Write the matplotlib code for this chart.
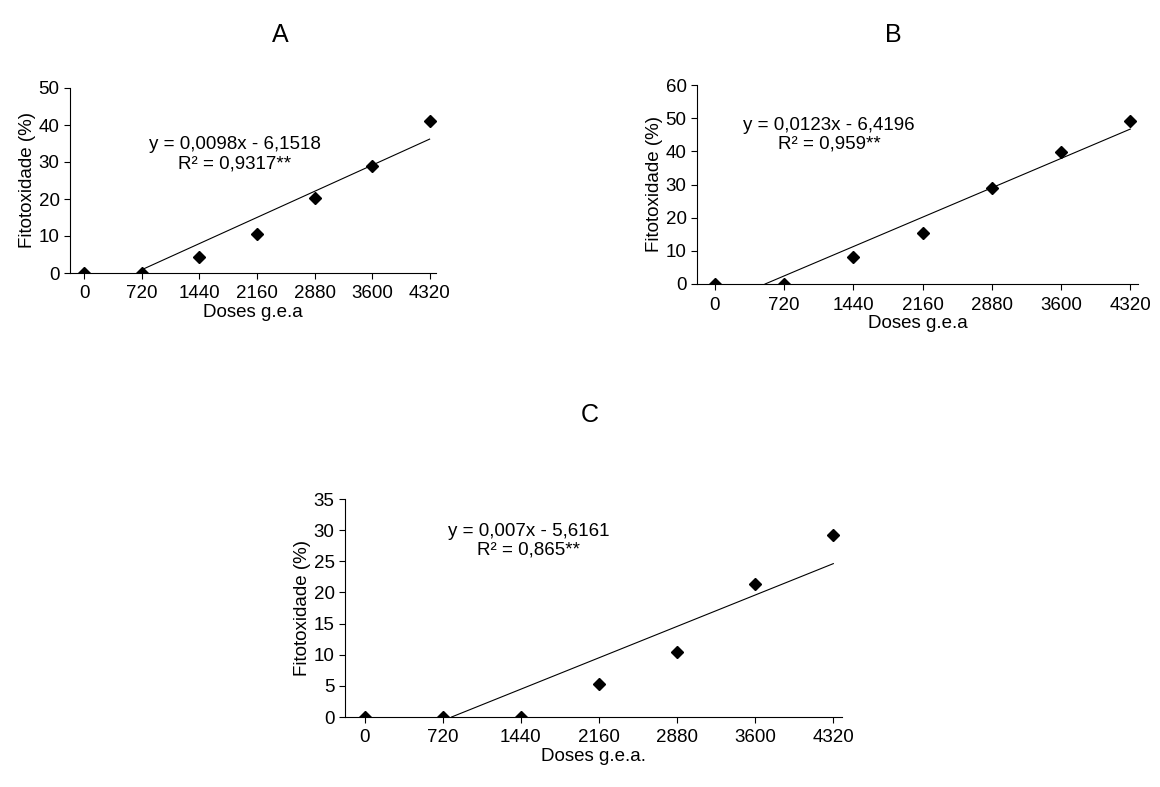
import numpy as np
import matplotlib
matplotlib.use("Agg")
import matplotlib.pyplot as plt

plt.rcParams['font.family'] = ['Liberation Sans', 'DejaVu Sans']

doses = [0, 720, 1440, 2160, 2880, 3600, 4320]
fito_a = [0, 0, 4.2, 10.5, 20.3, 28.8, 41.0]
fito_b = [0, 0, 8.0, 15.3, 28.8, 39.7, 49.2]
fito_c = [0, 0, 0, 5.3, 10.5, 21.3, 29.3]

W, H = 1160, 787


def make_ax(fig, l, r, t, b):
    return fig.add_axes([l / W, 1 - b / H, (r - l) / W, (b - t) / H])


def panel(ax, y, slope, icpt, r2, ymax, ystep, xmin, x0, eqxy, xlabel):
    ax.plot(doses, y, 'D', color='black', markersize=6.5)
    xs = np.array([max(x0, -icpt / slope), 4320])
    ax.plot(xs, slope * xs + icpt, color='black', lw=0.8)
    ax.set_xlim(xmin, 4400)
    ax.set_ylim(0, ymax)
    ax.set_xticks(doses)
    ax.set_yticks(np.arange(0, ymax + 0.1, ystep))
    ax.tick_params(labelsize=13.5, length=4, direction='out')
    ax.tick_params(axis='x', pad=5)
    for s in ['top', 'right']:
        ax.spines[s].set_visible(False)
    ax.set_xlabel(xlabel, fontsize=13.5, labelpad=1)
    ax.set_ylabel('Fitotoxidade (%)', fontsize=13.5, labelpad=2)
    eq = f"y = {slope}x - {-icpt}".replace('.', ',')
    ax.text(eqxy[0], eqxy[1], eq + "\n" + ("R² = " + str(r2)).replace('.', ',') + "**",
            fontsize=13.5, ha='center', va='top', linespacing=1.15, transform=ax.transAxes)


fig = plt.figure(figsize=(W / 100, H / 100), dpi=100)

ax_a = make_ax(fig, 70, 436, 88, 273)
panel(ax_a, fito_a, 0.0098, -6.1518, 0.9317, 50, 10, -180, 720, (0.45, 0.74), 'Doses g.e.a')
ax_b = make_ax(fig, 697, 1138, 85, 284)
panel(ax_b, fito_b, 0.0123, -6.4196, 0.959, 60, 10, -186, 0, (0.30, 0.84), 'Doses g.e.a')
ax_c = make_ax(fig, 345, 842, 499, 717)
panel(ax_c, fito_c, 0.007, -5.6161, 0.865, 35, 5, -180, 0, (0.37, 0.89), 'Doses g.e.a.')

fig.text(280 / W, 1 - 35 / H, 'A', fontsize=18, ha='center', va='center')
fig.text(893 / W, 1 - 35 / H, 'B', fontsize=18, ha='center', va='center')
fig.text(590 / W, 1 - 415 / H, 'C', fontsize=18, ha='center', va='center')

fig.savefig('out.png', dpi=100)
